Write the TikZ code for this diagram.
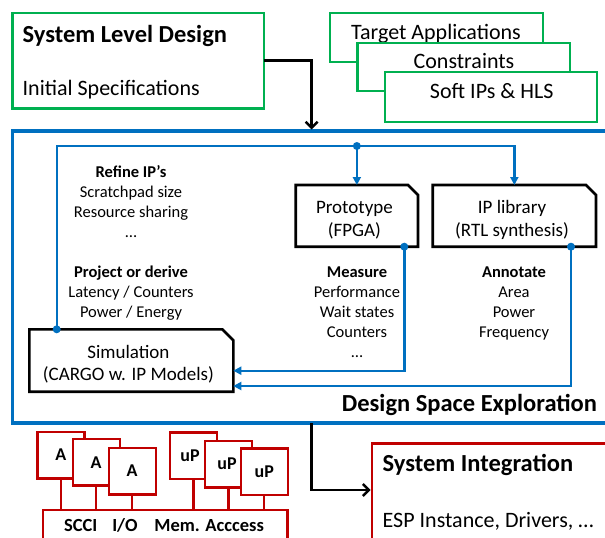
\documentclass[tikz,border=0pt]{standalone}
\usepackage{fontspec}
\setmainfont{Carlito}
\usetikzlibrary{arrows.meta,calc}
\definecolor{cgreen}{RGB}{0,176,80}
\definecolor{cblue}{RGB}{0,112,192}
\definecolor{cred}{RGB}{192,0,0}
\newcommand\fszBig{\fontsize{24.5}{28}\selectfont}
\newcommand\fszL{\fontsize{22}{26}\selectfont}
\newcommand\fszM{\fontsize{19}{22}\selectfont}
\newcommand\fszS{\fontsize{16.5}{20}\selectfont}
\newcommand\fszBus{\fontsize{18.5}{22}\selectfont}
\newcommand\chamfbox[2]{\draw[blkline] (#1.south west) -- (#1.north west) -- ($(#1.north east)+(-#2,0)$) -- ($(#1.north east)+(0,-#2)$) -- (#1.south east) -- cycle;}
\begin{document}
\begin{tikzpicture}[x=1pt,y=-1pt,
  box/.style={inner sep=0pt, outer sep=0pt, fill=white},
  gbox/.style={box, draw=cgreen, line width=2.4pt},
  rbox/.style={box, draw=cred, line width=2.4pt},
  dsebox/.style={box, draw=cblue, line width=3.2pt, fill=none},
  blkline/.style={draw=black, line width=2.6pt, line join=miter},
  cbox/.style={inner sep=0pt, outer sep=0pt},
  txt/.style={inner sep=0pt, outer sep=0pt},
  bl/.style={draw=cblue, line width=2.4pt},
  blarr/.style={bl, -{Triangle[length=8pt,width=8pt]}},
  blkarr/.style={draw=black, line width=2.5pt, -{Straight Barb[length=6pt,width=12pt,line width=2.5pt]}},
  dot/.style={circle, fill=cblue, inner sep=0pt, minimum size=8pt},
  rline/.style={draw=cred, line width=2.4pt},
  small/.style={txt, font=\fszS, anchor=base},
  ablk/.style={rbox, minimum width=47pt, minimum height=46.6pt, font=\fontsize{18}{20}\selectfont\bfseries}
]
\useasboundingbox (0,0) rectangle (605,538);
\clip (0,0) rectangle (605,538);
\fill[white] (0,0) rectangle (605,538);

% System level design
\node[gbox, minimum width=251.5pt, minimum height=95.6pt] (sld) at (138.25,60.5) {};
\node[txt, anchor=base west, font=\fszBig\bfseries] (sldt) at (22.7,42.3) {System Level Design};
\node[txt, anchor=base west, font=\fszL] (slds) at (22.7,95.5) {Initial Specifications};

% stacked green boxes
\node[gbox, minimum width=213pt, minimum height=49pt] (tgt) at (436.5,37.5) {};
\node[txt, anchor=base, font=\fszL] (tgtt) at (436,39) {Target Applications};
\node[gbox, minimum width=212.4pt, minimum height=48pt] (cons) at (463.8,67) {};
\node[txt, anchor=base, font=\fszL] (const) at (464,68.3) {Constraints};
\node[gbox, minimum width=212pt, minimum height=50pt] (soft) at (491,97) {};
\node[txt, anchor=base, font=\fszL] (softt) at (491.7,98.3) {Soft IPs \& HLS};

% DSE box
\node[dsebox, minimum width=607.5pt, minimum height=292pt] (dse) at (316.25,277) {};
\node[txt, anchor=base east, font=\fszBig\bfseries] (dset) at (597,411.7) {Design Space Exploration};

% chamfered boxes
\node[cbox, minimum width=204pt, minimum height=62.4pt] (sim) at (131.3,360.5) {};
\chamfbox{sim}{11pt}
\node[txt, anchor=base, font=\fszM] (sim1) at (128.4,358.7) {Simulation};
\node[txt, anchor=base, font=\fszM] (sim2) at (128.4,380.7) {(CARGO w. IP Models)};

\node[cbox, minimum width=122.3pt, minimum height=61.7pt] (proto) at (356.85,215.85) {};
\chamfbox{proto}{10pt}
\node[txt, anchor=base, font=\fszM] (proto1) at (354.4,213.7) {Prototype};
\node[txt, anchor=base, font=\fszM] (proto2) at (354.4,236.5) {(FPGA)};

\node[cbox, minimum width=163.3pt, minimum height=61.7pt] (ip) at (514.35,215.85) {};
\chamfbox{ip}{10pt}
\node[txt, anchor=base, font=\fszM] (ip1) at (512,213.7) {IP library};
\node[txt, anchor=base, font=\fszM] (ip2) at (512,236.5) {(RTL synthesis)};

% left column text
\node[small] (r1) at (131,177) {\bfseries Refine IP’s};
\node[small] (r2) at (131,197) {Scratchpad size};
\node[small] (r3) at (131,217) {Resource sharing};
\node[small] (r4) at (131,237) {…};
\node[small] (r5) at (131,277) {\bfseries Project or derive};
\node[small] (r6) at (131,297) {Latency / Counters};
\node[small] (r7) at (131,317) {Power / Energy};

% measure column
\node[small] (m1) at (357,277) {\bfseries Measure};
\node[small] (m2) at (357,297) {Performance};
\node[small] (m3) at (357,317) {Wait states};
\node[small] (m4) at (357,337) {Counters};
\node[small] (m5) at (357,357) {…};

% annotate column
\node[small] (a1t) at (514,277) {\bfseries Annotate};
\node[small] (a2t) at (514,297) {Area};
\node[small] (a3t) at (514,317) {Power};
\node[small] (a4t) at (514,337) {Frequency};

% blue connectors
\coordinate (J) at (356.85,146);
\coordinate (S0) at ($(sim.north west)+(27.4pt,0)$);
\coordinate (P0) at ($(proto.south east)+(-13.7pt,0)$);
\coordinate (I0) at ($(ip.south east)+(-25pt,0)$);
\draw[bl] (S0) |- (J);
\draw[blarr] (J) -- (proto.north);
\draw[blarr] (J) -| (ip.north);
\draw[blarr] (P0) |- ($(sim.south east)+(0,21pt)$);
\draw[blarr] (I0) |- ($(sim.south east)+(0,5.7pt)$);
\node[dot] (dJ) at (J) {};
\node[dot] (dS) at (S0) {};
\node[dot] (dP) at (P0) {};
\node[dot] (dI) at (I0) {};

% black arrows
\coordinate (ax) at (311.7,0);
\draw[blkarr, shorten >=1.5pt] (sld.east) -| (ax |- dse.north);

% system integration
\node[rbox, minimum width=278.3pt, minimum height=156.7pt] (si) at (510.85,521.65) {};
\node[txt, anchor=base west, font=\fszBig\bfseries] (sit) at (382.7,471.7) {System Integration};
\node[txt, anchor=base west, font=\fszL] (sis) at (382.7,527.3) {ESP Instance, Drivers, …};
\draw[blkarr, shorten >=1pt] (ax |- dse.south) |- ($(si.north west)+(0,-46.7pt)$);

% bus and blocks
\node[rbox, minimum width=244.6pt, minimum height=50pt] (bus) at (165,535) {};
\node[txt, anchor=base, font=\fszBus\bfseries] (b1) at (80.8,531) {SCCI};
\node[txt, anchor=base, font=\fszBus\bfseries] (b2) at (125,531) {I/O};
\node[txt, anchor=base, font=\fszBus\bfseries] (b3) at (209.2,531) {Mem. Acccess};

\node[ablk] (A1) at (60.8,455) {A};
\node[ablk] (A2) at (96.2,462.3) {A};
\node[ablk] (A3) at (132.2,471) {A};
\node[ablk] (U1) at (193.5,455.6) {\hspace*{-7pt}uP};
\node[ablk] (U2) at (228.5,464) {\hspace*{-3pt}uP};
\node[ablk] (U3) at (264.2,471.6) {uP};
\foreach \b in {A1,A2,A3,U1,U2,U3}
  \draw[rline] (\b.south) -- (\b.south |- bus.north);
\end{tikzpicture}
\end{document}
